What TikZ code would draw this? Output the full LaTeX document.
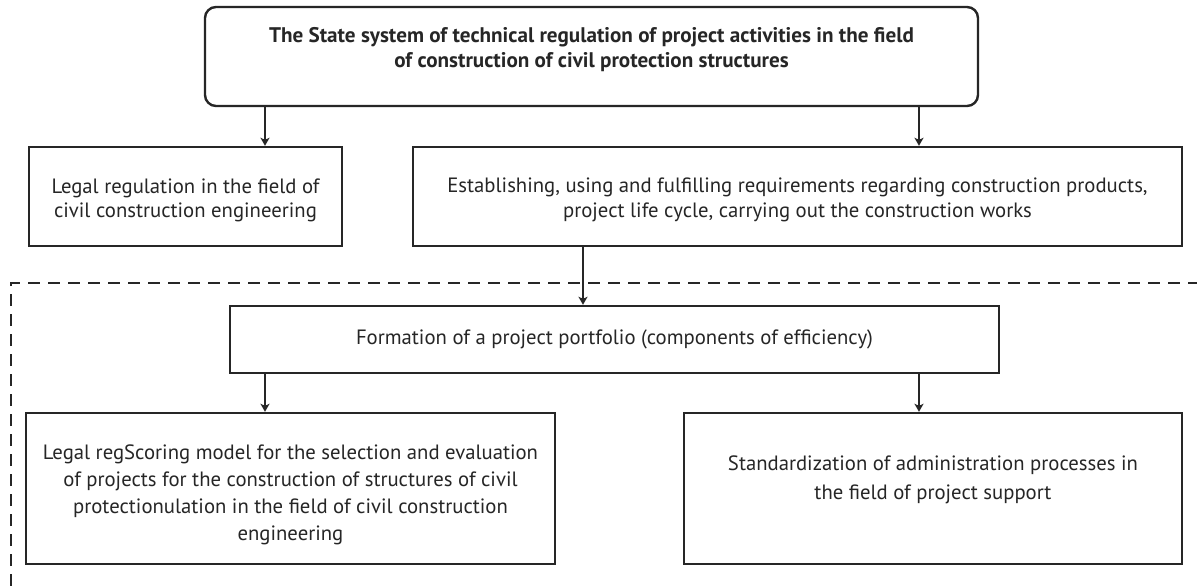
\documentclass[tikz,border=0pt]{standalone}
\usepackage{fontspec}
\setmainfont{PT Sans}
\usetikzlibrary{arrows.meta}
\newlength\mywidth
\begin{document}
\settowidth\mywidth{\fontsize{10pt}{12pt}\selectfont Legal regulation in the field of}%
\pgfmathsetmacro\bodysize{10*268/\mywidth}%
\settowidth\mywidth{\bfseries\fontsize{10pt}{12pt}\selectfont The State system of technical regulation of project activities in the field}%
\pgfmathsetmacro\titlesize{10*645/\mywidth}%
\begin{tikzpicture}[x=1pt,y=-1pt,
  box/.style={draw=black!85, line width=2.4pt, inner sep=0pt},
  txt/.style={align=center, inner sep=0pt, text=black!85,
    font=\fontsize{\bodysize pt}{24pt}\selectfont},
  arr/.style={draw=black!85, line width=1.4pt, -{Stealth[length=8pt,width=9pt,inset=2pt]}},
  frame/.style={draw=black!85, line width=1.6pt, dash pattern=on 12pt off 8pt}
]
\useasboundingbox[fill=white] (0,0) rectangle (1197,586);
% boxes
\node[box, rounded corners=11pt, minimum width=773pt, minimum height=99pt] (top) at (591.5,56.5) {};
\node[box, minimum width=313pt, minimum height=99pt] (left) at (185.5,196.5) {};
\node[box, minimum width=769pt, minimum height=99pt] (right) at (797.5,196.5) {};
\node[box, minimum width=769pt, minimum height=67pt] (form) at (614.5,339.5) {};
\node[box, minimum width=529pt, minimum height=151pt] (bl) at (290.5,488.5) {};
\node[box, minimum width=498pt, minimum height=151pt] (br) at (933,488.5) {};
% texts
\node[txt, font=\bfseries\fontsize{\titlesize pt}{25pt}\selectfont] (toptxt) at (591.5,50)
  {The State system of technical regulation of project activities in the field\\of construction of civil protection structures};
\node[txt] (lefttxt) at (185.5,200)
  {Legal regulation in the field of\\civil construction engineering};
\node[txt, font=\fontsize{\bodysize pt}{25pt}\selectfont] (righttxt) at (797.5,200)
  {Establishing, using and fulfilling requirements regarding construction products,\\project life cycle, carrying out the construction works};
\node[txt] (formtxt) at (614.5,339.5)
  {Formation of a project portfolio (components of efficiency)};
\node[txt, font=\fontsize{\bodysize pt}{27pt}\selectfont] (bltxt) at (290.5,495)
  {Legal regScoring model for the selection and evaluation\\of projects for the construction of structures of civil\\protectionulation in the field of civil construction\\engineering};
\node[txt, font=\fontsize{\bodysize pt}{29pt}\selectfont] (brtxt) at (933,480)
  {Standardization of administration processes in\\the field of project support};
% dashed frame
\coordinate (f1) at (11,586);
\coordinate (f2) at (11,283);
\coordinate (f3) at (1197,283);
\draw[frame] (f1) -- (f2) -- (f3);
% arrows
\coordinate (x1) at (265,0);
\coordinate (x2) at (919,0);
\coordinate (x3) at (583,0);
\draw[arr] (top.south -| x1) -- (left.north -| x1);
\draw[arr] (top.south -| x2) -- (right.north -| x2);
\draw[arr] (right.south -| x3) -- (form.north -| x3);
\draw[arr] (form.south -| x1) -- (bl.north -| x1);
\draw[arr] (form.south -| x2) -- (br.north -| x2);
\end{tikzpicture}
\end{document}
